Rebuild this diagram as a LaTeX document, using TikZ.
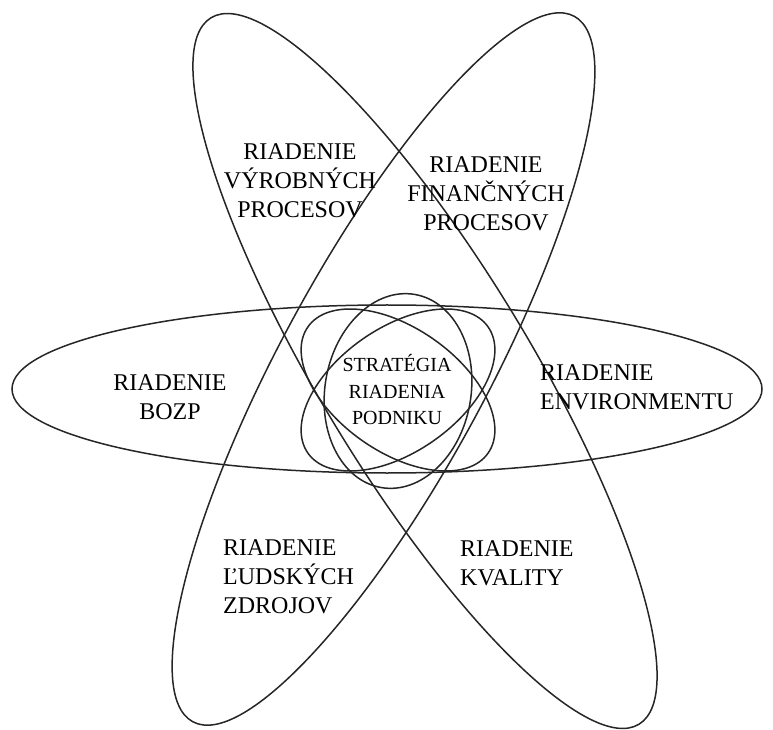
\documentclass[tikz,border=0pt]{standalone}
\usepackage{fontspec}
\setmainfont{Liberation Serif}
\tikzset{
  petal/.style={draw=black!85,line width=1.5pt},
  core/.style={draw=black!85,line width=1.5pt},
  lbl/.style={inner sep=0pt,font=\fontsize{24}{29}\selectfont},
  lblc/.style={lbl,align=center},
  lblw/.style={lbl,align=left,anchor=west},
  hub/.style={inner sep=0pt,align=center,font=\fontsize{20}{26.5}\selectfont}
}

\begin{document}
\begin{tikzpicture}[x=1pt,y=1pt]
  \useasboundingbox (0,0) rectangle (773,729);
  % big ellipses
  \draw[petal] (387,340) ellipse [x radius=375,y radius=84];
  \draw[petal,rotate around={-58.8:(425,358)}] (425,358) ellipse [x radius=413,y radius=105];
  \draw[petal,rotate around={61.6:(383.5,360)}] (383.5,360) ellipse [x radius=401,y radius=103.5];
  % small ellipses in the middle
  \draw[core,rotate around={-10:(398,338)}] (398,338) ellipse [x radius=73,y radius=98];
  \draw[core,rotate around={35:(398,339)}] (398,339) ellipse [x radius=110,y radius=62];
  \draw[core,rotate around={-35:(398,339)}] (398,339) ellipse [x radius=110,y radius=62];
  % labels
  \node[hub] (strat) at (397,339) {STRATÉGIA\\RIADENIA\\PODNIKU};
  \node[lblc] (bozp) at (170,332) {RIADENIE\\BOZP};
  \node[lblc] (vyr) at (300,548) {RIADENIE\\VÝROBNÝCH\\PROCESOV};
  \node[lblc] (fin) at (486,535) {RIADENIE\\FINANČNÝCH\\PROCESOV};
  \node[lblw] (env) at (540,342) {RIADENIE\\ENVIRONMENTU};
  \node[lblw] (lud) at (223,152) {RIADENIE\\ĽUDSKÝCH\\ZDROJOV};
  \node[lblw] (kval) at (460,166) {RIADENIE\\KVALITY};
\end{tikzpicture}
\end{document}
